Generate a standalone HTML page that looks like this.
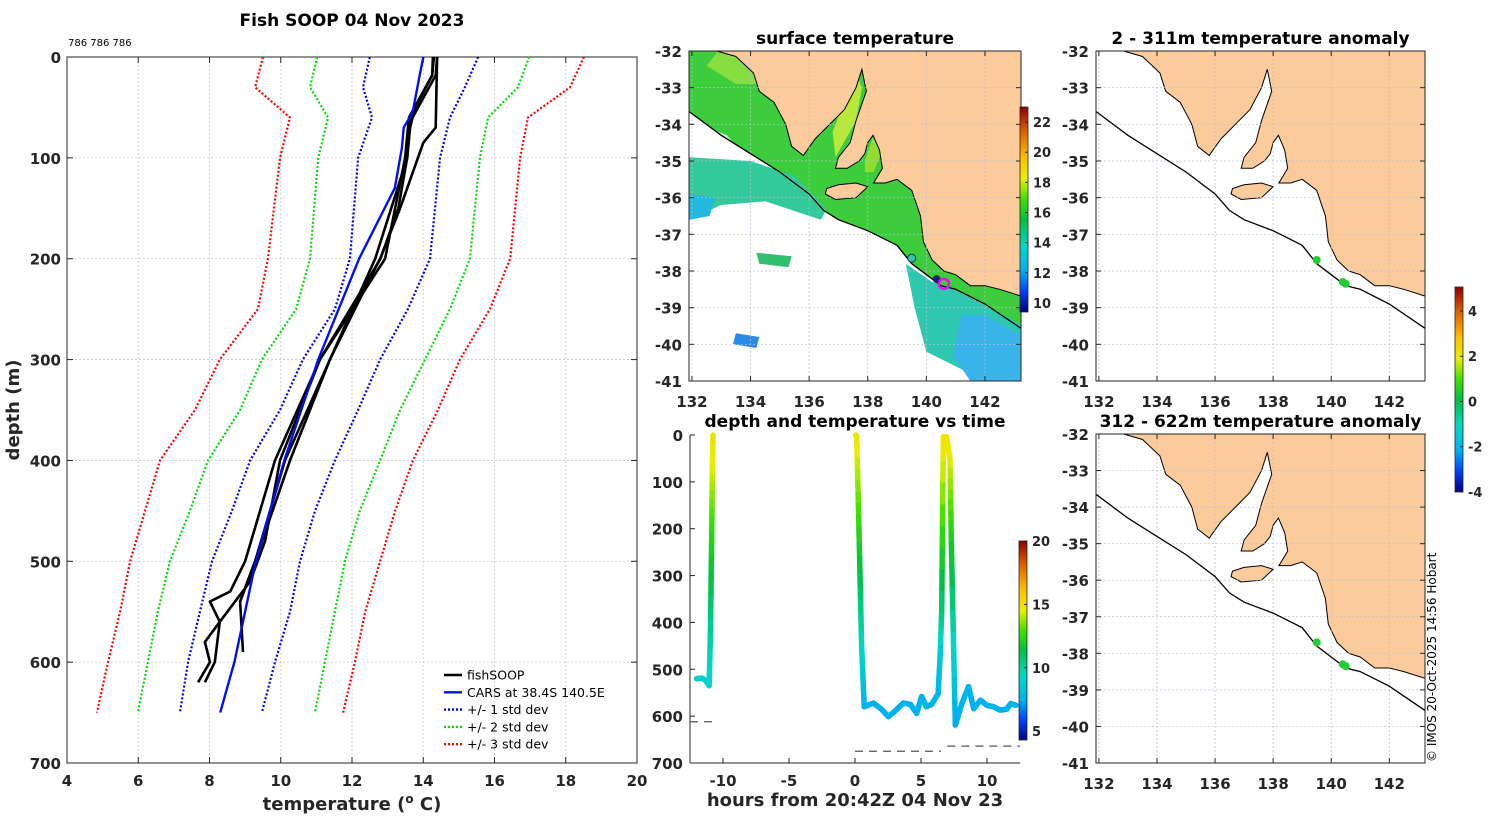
<!DOCTYPE html>
<html><head><meta charset="utf-8"><style>
html,body{margin:0;padding:0;background:#fff}
svg{display:block;font-family:"DejaVu Sans","Liberation Sans",sans-serif}
.tk{font-size:15px;font-weight:bold;fill:#262626}
.tt{font-size:17px;font-weight:bold;fill:#000}
</style></head><body>
<svg id="fig" width="1500" height="820" viewBox="0 0 1500 820" xmlns="http://www.w3.org/2000/svg">
<defs>
<linearGradient id="jet" x1="0" y1="1" x2="0" y2="0">
<stop offset="0" stop-color="#000080"/><stop offset="0.1" stop-color="#0040ff"/><stop offset="0.2" stop-color="#00b0f0"/><stop offset="0.32" stop-color="#00d8c8"/><stop offset="0.45" stop-color="#00c040"/><stop offset="0.55" stop-color="#40e000"/><stop offset="0.65" stop-color="#e8f000"/><stop offset="0.75" stop-color="#ffc000"/><stop offset="0.88" stop-color="#e06000"/><stop offset="1" stop-color="#900000"/>
</linearGradient>
</defs>
<g id="main"></g>
<g id="sst"></g>
<g id="dt"></g>
<g id="a1"></g>
<g id="a2"></g>
<text x="352" y="26" text-anchor="middle" class="tt">Fish SOOP 04 Nov 2023</text>
<text x="68" y="46" font-size="10" fill="#000">786 786 786</text>
<text transform="translate(1436,762) rotate(-90)" font-size="12" fill="#000">© IMOS 20-Oct-2025 14:56 Hobart</text>
</svg>
<script>
// ---- profile panel data ----
const stdDepths=[0,30,60,100,200,250,300,350,400,450,500,550,600,650];
const minus1=[12.5,12.31,12.56,12.17,11.94,11.52,10.62,9.98,9.14,8.63,8.07,7.73,7.40,7.17];
const plus1=[15.54,15.17,14.75,14.47,14.19,13.57,12.79,12.17,11.52,10.96,10.54,10.26,9.84,9.47];
const minus2=[11.02,10.82,11.33,11.05,10.82,10.43,9.47,8.86,7.96,7.45,6.89,6.55,6.27,5.99];
const plus2=[16.97,16.66,15.82,15.59,15.31,14.75,14.05,13.35,12.79,12.22,11.80,11.52,11.24,10.96];
const minus3=[9.5,9.28,10.26,9.98,9.64,9.36,8.29,7.59,6.61,6.19,5.77,5.49,5.15,4.84];
const plus3=[18.51,18.12,16.94,16.72,16.44,15.87,15.03,14.41,13.71,13.21,12.79,12.37,12.08,11.75];
const carsDepth=[0,18,55,70,90,130,200,300,400,500,600,650];
const carsTemp=[14.0,13.9,13.7,13.45,13.4,13.2,12.2,11.05,10.1,9.3,8.7,8.3];
const fishA_d=[0,18,60,70,100,150,200,300,400,500,530,540,560,580,600,620];
const fishA_t=[14.39,14.35,13.7,13.63,13.55,13.3,12.8,11.1,9.84,9.0,8.58,8.01,8.29,7.87,8.01,7.68];
const fishB_d=[0,18,60,100,200,300,400,500,540,590];
const fishB_t=[14.27,14.25,13.63,13.55,12.65,11.38,10.26,9.28,8.86,8.94];
const fishC_d=[0,70,85,100,150,200,250,300,400,500,540];
const fishC_t=[14.39,14.35,14.0,13.85,13.35,12.79,12.08,11.38,10.12,9.28,8.86];
const fishD_d=[0,18,60,100,200,300,400,480,520,560,600,620];
const fishD_t=[14.3,14.25,13.6,13.49,12.93,11.1,9.98,9.56,9.14,8.29,8.15,7.87];
const tempTicks=[4,6,8,10,12,14,16,18,20];
const depthTicks=[0,100,200,300,400,500,600,700];
// ---- depth-time data ----
const dtHours1=[-12.0,-11.6,-11.3,-11.05,-10.95,-10.85,-10.8,-10.75];
const dtDepth1=[520,519,524,535,420,200,60,0];
const dtTemp1=[9.0,9.0,9.0,9.0,10.0,12.5,14.5,15.0];
const dtHours2=[0.05,0.13,0.3,0.5,0.7,1.39,2.0,2.52,3.0,3.66,4.2,4.67,5.05,5.4,5.8,6.3,6.45,6.57,6.69,6.94,7.2,7.3,7.6,8.1,8.6,8.99,9.5,10.0,10.5,11.0,11.5,11.8,12.2];
const dtDepth2=[0,3,200,450,580,572,585,601,590,572,575,594,558,580,575,552,470,374,4,4,54,232,619,573,537,584,566,577,580,587,585,573,577];
const dtTemp2=[15.0,15.0,12.5,9.5,7.6,7.6,7.5,7.5,7.5,7.6,7.6,7.5,7.7,7.6,7.6,7.7,8.5,10.5,15.0,15.0,14.5,12.0,7.4,7.6,7.8,7.5,7.6,7.6,7.6,7.5,7.5,7.6,7.6];
const bottomStart=[-12.5,0,7.0];
const bottomEnd=[-10.7,6.5,12.5];
const bottomDepth=[612,675,664];
const hourTicks=[-10,-5,0,5,10];
// ---- map data ----
const lonTicks=[132,134,136,138,140,142];
const latTicks=[-32,-33,-34,-35,-36,-37,-38,-39,-40,-41];
const coastLon=[132.85,133.5,134.1,134.3,134.8,135.2,135.4,135.8,136.2,136.7,137.2,137.6,137.8,137.95,137.6,137.4,137.0,136.9,137.3,137.7,137.9,138.0,138.18,138.4,138.5,138.2,138.6,139.0,139.5,139.8,139.9,140.2,140.6,141.0,141.5,142.0,142.5,143.3];
const coastLat=[-32.0,-32.15,-32.6,-33.1,-33.4,-34.0,-34.6,-34.85,-34.4,-34.0,-33.6,-33.0,-32.5,-33.1,-33.9,-34.5,-34.9,-35.2,-35.2,-35.0,-34.8,-34.5,-34.3,-34.7,-35.2,-35.6,-35.6,-35.5,-35.8,-36.5,-37.2,-37.7,-38.0,-38.1,-38.4,-38.4,-38.5,-38.7];
const kiLon=[136.6,137.0,137.6,138.0,137.6,136.9,136.55];
const kiLat=[-35.75,-35.65,-35.6,-35.7,-36.0,-36.05,-35.9];
const shelfLon=[131.9,133,134,135,136,136.5,137,138,139,139.5,140,140.5,141,142,143.3];
const shelfLat=[-33.65,-34.3,-34.8,-35.3,-35.9,-36.35,-36.6,-36.9,-37.3,-37.8,-38.1,-38.4,-38.5,-38.9,-39.6];
const floatLon=[139.5,140.4,140.5];
const floatLat=[-37.7,-38.3,-38.35];

const NS='http://www.w3.org/2000/svg';
function mk(parent,tag,attrs){const e=document.createElementNS(NS,tag);for(const k in attrs)e.setAttribute(k,attrs[k]);parent.appendChild(e);return e;}
const CMAP=[[0,0,0,128],[0.1,0,64,255],[0.2,0,176,240],[0.32,0,216,200],[0.45,0,192,64],[0.55,64,224,0],[0.65,232,240,0],[0.75,255,192,0],[0.88,224,96,0],[1,144,0,0]];
function jet(v){v=Math.max(0,Math.min(1,v));for(let i=0;i<CMAP.length-1;i++){const a=CMAP[i],b=CMAP[i+1];if(v<=b[0]){const f=(v-a[0])/(b[0]-a[0]);return `rgb(${Math.round(a[1]+(b[1]-a[1])*f)},${Math.round(a[2]+(b[2]-a[2])*f)},${Math.round(a[3]+(b[3]-a[3])*f)})`;}}return 'rgb(144,0,0)';}

// ===== profile panel =====
(function(){
const g=document.getElementById('main');
const X0=67,X1=637,Y0=57,Y1=763;
const xs=t=>X0+(t-4)/16*(X1-X0), ys=d=>Y0+d/700*(Y1-Y0);
tempTicks.forEach(t=>{const x=xs(t);
 const l=mk(g,'line',{x1:x,x2:x,y1:Y0,y2:Y1,stroke:'#c4c8d8','stroke-width':0.8,'stroke-dasharray':'2,2'});
 
 mk(g,'line',{x1:x,x2:x,y1:Y1,y2:Y1-6,stroke:'#262626'});mk(g,'line',{x1:x,x2:x,y1:Y0,y2:Y0+6,stroke:'#262626'});
 const tx=mk(g,'text',{x:x,y:Y1+23,'text-anchor':'middle',class:'tk'});tx.textContent=t;
 });
depthTicks.forEach(d=>{const y=ys(d);
 const l=mk(g,'line',{x1:X0,x2:X1,y1:y,y2:y,stroke:'#c4c8d8','stroke-width':0.8,'stroke-dasharray':'2,2'});
 
 mk(g,'line',{x1:X0,x2:X0+6,y1:y,y2:y,stroke:'#262626'});mk(g,'line',{x1:X1,x2:X1-6,y1:y,y2:y,stroke:'#262626'});
 const tx=mk(g,'text',{x:X0-6,y:y+6,'text-anchor':'end',class:'tk'});tx.textContent=d;
 });
const box=mk(g,'rect',{x:X0,y:Y0,width:X1-X0,height:Y1-Y0,fill:'none',stroke:'#262626','stroke-width':1});

function line(ds,ts,col,w,dash,name){const p=mk(g,'polyline',{points:ds.map((d,i)=>xs(ts[i]).toFixed(1)+','+ys(d).toFixed(1)).join(' '),fill:'none',stroke:col,'stroke-width':w,'stroke-linejoin':'round'});if(dash)p.setAttribute('stroke-dasharray',dash);
 }
line(stdDepths,minus3,'#ff0000',2.2,'2,2','minus-3-std-line');line(stdDepths,plus3,'#ff0000',2.2,'2,2','plus-3-std-line');
line(stdDepths,minus2,'#00dd00',2.2,'2,2','minus-2-std-line');line(stdDepths,plus2,'#00dd00',2.2,'2,2','plus-2-std-line');
line(stdDepths,minus1,'#0000ee',2.2,'2,2','minus-1-std-line');line(stdDepths,plus1,'#0000ee',2.2,'2,2','plus-1-std-line');
line(fishA_d,fishA_t,'#000',2.6,null,'fishsoop-profile-a');line(fishB_d,fishB_t,'#000',2.6,null,'fishsoop-profile-b');
line(fishC_d,fishC_t,'#000',2.6,null,'fishsoop-profile-c');line(fishD_d,fishD_t,'#000',2.6,null,'fishsoop-profile-d');
line(carsDepth,carsTemp,'#0010ee',2.4,null,'cars-climatology-line');
const xl=mk(g,'text',{x:352,y:810,'text-anchor':'middle',class:'tk',style:'font-size:18px'});xl.innerHTML='temperature (<tspan dy="-7" style="font-size:12px">o</tspan><tspan dy="7"> C)</tspan>';

const yl=mk(g,'text',{transform:'translate(19,410) rotate(-90)','text-anchor':'middle',class:'tk',style:'font-size:18px'});yl.textContent='depth (m)';

const leg=[['fishSOOP','#000',null],['CARS at 38.4S 140.5E','#0010ee',null],['+/- 1 std dev','#0000ee','2,2'],['+/- 2 std dev','#00dd00','2,2'],['+/- 3 std dev','#ff0000','2,2']];
leg.forEach((L,i)=>{const y=675+i*17.3;const lg=mk(g,'g',{});
 
 const l=mk(lg,'line',{x1:444,x2:462,y1:y,y2:y,stroke:L[1],'stroke-width':2.4});if(L[2])l.setAttribute('stroke-dasharray',L[2]);
 const t=mk(lg,'text',{x:467,y:y+4.5,'font-size':12.5,fill:'#000'});t.textContent=L[0];});
})();

// ===== maps =====
function drawMap(id,X0,Y0,X1,Y1,title,sst){
const g=document.getElementById(id);
const lx=l=>X0+(l-131.9)/(143.23-131.9)*(X1-X0), ly=a=>Y0+(-32-a)/9*(Y1-Y0);
const cp='clip'+id;const cl=mk(g,'clipPath',{id:cp});mk(cl,'rect',{x:X0,y:Y0,width:X1-X0,height:Y1-Y0});
const inner=mk(g,'g',{'clip-path':`url(#${cp})`});
const pts=(lo,la)=>lo.map((l,i)=>lx(l).toFixed(1)+','+ly(la[i]).toFixed(1)).join(' ');
if(sst){
 const shelfPts=pts(shelfLon,shelfLat);
 const gr=mk(inner,'polygon',{points:lx(131.9)+','+ly(-32)+' '+lx(143.3)+','+ly(-32)+' '+shelfPts.split(' ').reverse().join(' '),fill:'#3ccc3c'});
 
 mk(inner,'polygon',{points:pts([131.9,133.2,133.8,131.9],[-33.9,-34.3,-34.9,-34.9]),fill:'#fff',opacity:0.75});
 mk(inner,'polygon',{points:pts([131.9,134,135.5,136.6,136.4,134.5,133,131.9],[-34.9,-35.0,-35.4,-36.3,-36.6,-36.1,-36.2,-36.6]),fill:'#33c99a'});
 mk(inner,'polygon',{points:pts([131.9,132.8,132.6,131.9],[-35.9,-36.0,-36.5,-36.6]),fill:'#22b8e0'});
 mk(inner,'polygon',{points:pts([136.9,137.6,137.8,137.6,137.2,136.8],[-34.9,-33.9,-33.0,-32.6,-33.4,-34.2]),fill:'#b8e83a'});
 mk(inner,'polygon',{points:pts([137.9,138.2,138.45,138.2,137.9],[-35.0,-34.3,-34.8,-35.3,-35.3]),fill:'#90dd30'});
 mk(inner,'polygon',{points:pts([132.9,134.3,134.6,133.5,132.5],[-32.0,-32.2,-32.9,-32.9,-32.4]),fill:'#88dd40'});
 mk(inner,'polygon',{points:pts([139.3,140.2,141,142,143.3,143.3,142,140,139.6],[-37.8,-38.3,-38.5,-38.9,-39.5,-41,-41,-40.2,-39.0]),fill:'#2ec8b0'});
 mk(inner,'polygon',{points:pts([141.2,142,143.3,143.3,141.5,140.9],[-39.2,-39.2,-39.8,-41,-41,-40.3]),fill:'#38b4ea'});
 mk(inner,'polygon',{points:pts([133.5,134.3,134.2,133.4],[-39.7,-39.8,-40.1,-40.0]),fill:'#2a8ae8'});
 mk(inner,'polygon',{points:pts([134.2,135.4,135.3,134.3],[-37.5,-37.6,-37.9,-37.8]),fill:'#30c070'});
}
const land=mk(inner,'polygon',{points:pts(coastLon,coastLat)+' '+lx(143.3)+','+ly(-31.9),fill:'#fbcb9b',stroke:'#000','stroke-width':1});

const ki=mk(inner,'polygon',{points:pts(kiLon,kiLat),fill:'#fbcb9b',stroke:'#000','stroke-width':1});

lonTicks.forEach(l=>{const x=lx(l);mk(inner,'line',{x1:x,x2:x,y1:Y0,y2:Y1,stroke:'#b8c0d8','stroke-width':0.7,'stroke-dasharray':'2,2'});
 mk(g,'line',{x1:x,x2:x,y1:Y1,y2:Y1-5,stroke:'#262626'});mk(g,'line',{x1:x,x2:x,y1:Y0,y2:Y0+5,stroke:'#262626'});
 const t=mk(g,'text',{x:x,y:Y1+26,'text-anchor':'middle',class:'tk'});t.textContent=l;
 });
latTicks.forEach(a=>{const y=ly(a);mk(inner,'line',{x1:X0,x2:X1,y1:y,y2:y,stroke:'#b8c0d8','stroke-width':0.7,'stroke-dasharray':'2,2'});
 mk(g,'line',{x1:X0,x2:X0+5,y1:y,y2:y,stroke:'#262626'});mk(g,'line',{x1:X1,x2:X1-5,y1:y,y2:y,stroke:'#262626'});
 const t=mk(g,'text',{x:X0-7,y:y+6,'text-anchor':'end',class:'tk'});t.textContent=a;
 });
const sh=mk(inner,'polyline',{points:pts(shelfLon,shelfLat),fill:'none',stroke:'#000','stroke-width':1.3});

if(sst){
 const c1=mk(inner,'circle',{cx:lx(139.5),cy:ly(-37.65),r:4,fill:'#30c8b0',stroke:'#333'});
 
 const c2=mk(inner,'circle',{cx:lx(140.35),cy:ly(-38.22),r:3.5,fill:'#102080',stroke:'#333'});
 
 const c3=mk(inner,'circle',{cx:lx(140.6),cy:ly(-38.35),r:5,fill:'none',stroke:'#ff00ff','stroke-width':2.5});
 
} else {
 floatLon.forEach((l,i)=>{const c=mk(inner,'circle',{cx:lx(l),cy:ly(floatLat[i]),r:4,fill:'#22cc33'});
  });
}
const fr=mk(g,'rect',{x:X0,y:Y0,width:X1-X0,height:Y1-Y0,fill:'none',stroke:'#262626'});

const tt=mk(g,'text',{x:(X0+X1)/2,y:Y0-7,'text-anchor':'middle',class:'tt'});tt.textContent=title;

}
drawMap('sst',689,51,1021,381,'surface temperature',true);
drawMap('a1',1096,51,1425,381,'2 - 311m temperature anomaly',false);
drawMap('a2',1096,434,1425,763,'312 - 622m temperature anomaly',false);

function colorbar(X,Y0,Y1,vmin,vmax,ticks,name){
 const g=document.getElementById('fig');const cg=mk(g,'g',{});
 
 mk(cg,'rect',{x:X,y:Y0,width:8,height:Y1-Y0,fill:'url(#jet)',stroke:'#262626','stroke-width':0.8});
 ticks.forEach(v=>{const y=Y1-(v-vmin)/(vmax-vmin)*(Y1-Y0);
  mk(cg,'line',{x1:X+5,x2:X+8,y1:y,y2:y,stroke:'#262626'});
  const t=mk(cg,'text',{x:X+13,y:y+5,'font-size':13,'font-weight':'bold',fill:'#262626'});t.textContent=v;});
}
colorbar(1020,107,312,9.4,23,[10,12,14,16,18,20,22],'sst-colorbar');
colorbar(1019,541,740,4.3,20,[5,10,15,20],'depth-time-colorbar');
colorbar(1455,287,492,-4,5.06,[-4,-2,0,2,4],'anomaly-colorbar');

// ===== depth-time panel =====
(function(){
const g=document.getElementById('dt');
const X0=690,X1=1020,Y0=435,Y1=763;
const xs=h=>X0+(h+12.5)/25*(X1-X0), ys=d=>Y0+d/700*(Y1-Y0);
const tc=t=>jet((t-4.3)/(20-4.3));
mk(g,'line',{x1:X0,x2:X0,y1:Y0,y2:Y1,stroke:'#262626'});mk(g,'line',{x1:X0,x2:X1,y1:Y1,y2:Y1,stroke:'#262626'});
depthTicks.forEach(d=>{const y=ys(d);mk(g,'line',{x1:X0,x2:X0+5,y1:y,y2:y,stroke:'#262626'});
 const t=mk(g,'text',{x:X0-7,y:y+6,'text-anchor':'end',class:'tk'});t.textContent=d;
 });
hourTicks.forEach(h=>{const x=xs(h);mk(g,'line',{x1:x,x2:x,y1:Y1,y2:Y1-5,stroke:'#262626'});
 const t=mk(g,'text',{x:x,y:Y1+23,'text-anchor':'middle',class:'tk'});t.textContent=h;
 });
const xl=mk(g,'text',{x:855,y:806,'text-anchor':'middle',class:'tk',style:'font-size:18px'});xl.textContent='hours from 20:42Z 04 Nov 23';

const tt=mk(g,'text',{x:855,y:427,'text-anchor':'middle',class:'tt'});tt.textContent='depth and temperature vs time';

bottomStart.forEach((s,i)=>{const l=mk(g,'line',{x1:xs(s),x2:xs(bottomEnd[i]),y1:ys(bottomDepth[i]),y2:ys(bottomDepth[i]),stroke:'#555','stroke-width':1.3,'stroke-dasharray':'8,6'});
 });
function trace(H,D,T,name){const tg=mk(g,'g',{});
 for(let i=0;i<H.length-1;i++){const n=8;for(let k=0;k<n;k++){const a=k/n,b=(k+1)/n;
  mk(tg,'line',{x1:xs(H[i]+(H[i+1]-H[i])*a),y1:ys(D[i]+(D[i+1]-D[i])*a),x2:xs(H[i]+(H[i+1]-H[i])*b),y2:ys(D[i]+(D[i+1]-D[i])*b),stroke:tc(T[i]+(T[i+1]-T[i])*(a+b)/2),'stroke-width':5.5,'stroke-linecap':'round'});}}}
trace(dtHours1,dtDepth1,dtTemp1,'float-trace-1');
trace(dtHours2,dtDepth2,dtTemp2,'float-trace-2');
})();
</script>
</body></html>
